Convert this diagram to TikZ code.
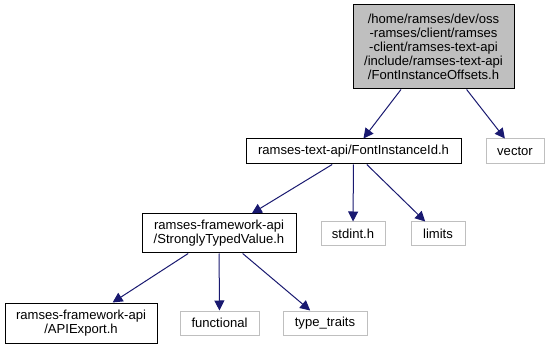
\documentclass[tikz,border=0pt]{standalone}
\usepackage{fontspec}
\setmainfont{Liberation Sans}
\usetikzlibrary{arrows.meta}

\definecolor{edgeblue}{HTML}{191970}
\definecolor{boxgray}{HTML}{BFBFBF}

\begin{document}
\begin{tikzpicture}[x=0.75pt,y=-0.75pt,
        every node/.style={font=\fontsize{9.8}{10.5}\selectfont,align=center,inner sep=0pt},
        file/.style={rectangle,draw=black,line width=0.75pt},
        sysfile/.style={rectangle,draw=boxgray,line width=0.75pt},
        dep/.style={color=edgeblue,line width=0.75pt,-{Triangle[length=7.5pt,width=7.5pt]}}]
            \useasboundingbox (0,0) rectangle (550,349);
            \node[file, fill=boxgray, minimum width=120.75pt, minimum height=63pt] (root) at (433.5,47)
                {/home/ramses/dev/oss\\-ramses/client/ramses\\-client/ramses-text-api\\/include/ramses-text-api\\/FontInstanceOffsets.h};
            \node[file, minimum width=161.25pt, minimum height=18.75pt] (fid) at (353.5,151.5) {ramses-text-api/FontInstanceId.h};
            \node[sysfile, minimum width=43.5pt, minimum height=18.75pt] (vec) at (515,151.5) {vector};
            \node[file, minimum width=115.5pt, minimum height=29.25pt] (stv) at (219,233.5) {ramses-framework-api\\/StronglyTypedValue.h};
            \node[sysfile, minimum width=48pt, minimum height=18pt] (stdint) at (353,234) {stdint.h};
            \node[sysfile, minimum width=40.5pt, minimum height=18pt] (limits) at (438,234) {limits};
            \node[file, minimum width=114pt, minimum height=30pt] (apiexp) at (81,323) {ramses-framework-api\\/APIExport.h};
            \node[sysfile, minimum width=59.25pt, minimum height=18pt] (func) at (219.5,323) {functional};
            \node[sysfile, minimum width=63pt, minimum height=18pt] (ttraits) at (325,323) {type\_traits};
            \path[dep]
                (root)
                    edge (fid)
                    edge (vec)
                (fid)
                    edge (stv)
                    edge (stdint)
                    edge (limits)
                (stv)
                    edge (apiexp)
                    edge (func)
                    edge (ttraits);
        \end{tikzpicture}
\end{document}
